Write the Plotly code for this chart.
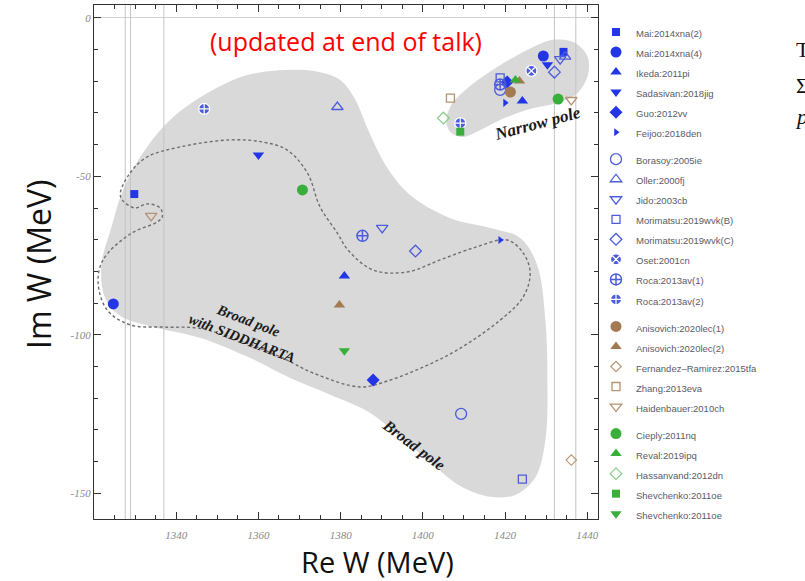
import plotly.graph_objects as go

# ---------------- axes ----------------
x_range = [1320.0, 1442.6]
y_range = [-158.2, 4.1]
x_tick_vals = [1340, 1360, 1380, 1400, 1420, 1440]
x_tick_text = ["1340", "1360", "1380", "1400", "1420", "1440"]
y_tick_vals = [0, -50, -100, -150]
y_tick_text = ["0", "-50", "-100", "-150"]
thresholds = [1327.6, 1328.9, 1337.0, 1432.0, 1437.2]

# ---------------- region outlines (Re W, Im W) ----------------
broad_re = [1367.0, 1375.0, 1379.9, 1383.6, 1386.7, 1390.9, 1396.9, 1406.7, 1416.4, 1423.7,
            1427.8, 1429.8, 1430.3, 1429.8, 1427.3, 1422.5, 1416.4, 1409.1, 1401.8, 1394.5,
            1387.2, 1377.5, 1367.7, 1358.0, 1345.8, 1333.7, 1326.4, 1322.7, 1321.8, 1324.4,
            1326.6, 1330.8, 1338.5, 1349.0, 1357.3, 1367.0]
broad_im = [-16.4, -17.1, -19.6, -25.9, -35.4, -46.4, -55.9, -63.2, -66.3, -69.5,
            -78.0, -95.4, -114.3, -133.3, -145.2, -150.6, -151.2, -147.8, -140.2, -132.3,
            -124.7, -119.0, -113.7, -107.4, -101.0, -97.3, -94.1, -88.4, -78.0, -65.4,
            -55.9, -44.8, -32.2, -22.7, -18.0, -16.4]

narrow_re = [1405.7, 1406.9, 1411.5, 1418.1, 1425.4, 1431.7, 1436.6, 1440.0, 1440.2, 1437.6,
             1432.7, 1425.4, 1418.8, 1413.5, 1409.6, 1406.7, 1405.7]
narrow_im = [-32.8, -27.5, -21.5, -15.5, -10.1, -6.9, -7.6, -12.0, -17.7, -23.7,
             -26.8, -29.0, -32.2, -35.7, -37.6, -36.0, -32.8]

sidd_re = [1326.4, 1328.8, 1332.9, 1341.0, 1353.1, 1361.2, 1367.0, 1371.9, 1375.0, 1379.2,
           1381.8, 1387.9, 1396.2, 1404.2, 1412.3, 1420.5, 1424.4, 1426.1, 1424.4, 1418.8,
           1408.4, 1400.1, 1392.1, 1384.8, 1373.3, 1365.3, 1353.1, 1345.1, 1336.8, 1328.8,
           1323.2, 1321.0, 1322.2, 1328.8, 1335.4, 1336.6, 1336.1, 1332.9, 1330.0, 1326.9,
           1326.4]
sidd_im = [-55.3, -48.9, -43.9, -40.7, -38.5, -39.2, -41.7, -48.9, -59.7, -67.9,
           -73.3, -79.6, -80.2, -76.4, -72.6, -70.1, -74.2, -80.5, -88.1, -95.4,
           -104.8, -110.2, -114.3, -116.5, -112.1, -107.0, -100.7, -97.9, -97.6, -96.9,
           -92.2, -83.7, -76.4, -68.2, -64.4, -62.8, -60.0, -58.7, -60.0, -57.5,
           -55.3]

# ---------------- pole positions ----------------
mai2_re, mai2_im = [1329.8, 1434.2], [-55.6, -10.7]
mai4_re, mai4_im = [1324.7, 1429.3], [-90.3, -12.0]
ikeda_re, ikeda_im = [1380.9, 1424.2], [-81.5, -26.2]
sadasivan_re, sadasivan_im = [1360.0, 1430.3], [-43.3, -14.8]
guo_re, guo_im = [1387.9, 1420.5], [-114.3, -20.2]
feijoo_re, feijoo_im = [1418.8, 1420.0], [-70.1, -26.8]
borasoy_re, borasoy_im = [1409.3, 1418.8], [-125.0, -22.7]
oller_re, oller_im = [1379.2, 1434.6], [-28.1, -12.2]
jido_re, jido_im = [1390.1, 1433.4], [-66.3, -13.0]
morib_re, morib_im = [1424.2, 1418.8], [-145.6, -18.9]
moric_re, moric_im = [1398.2, 1432.0], [-73.6, -17.1]
oset_re, oset_im = [1426.4], [-16.7]
roca1_re, roca1_im = [1385.3, 1418.8], [-68.8, -21.0]
roca2_re, roca2_im = [1346.8, 1409.1], [-28.7, -33.2]
anis1_re, anis1_im = [1421.3], [-23.4]
anis2_re, anis2_im = [1379.7, 1423.5], [-90.6, -19.9]
fern_re, fern_im = [1436.1], [-139.6]
zhang_re, zhang_im = [1406.7], [-25.3]
haid_re, haid_im = [1333.9, 1436.1], [-62.5, -25.9]
cieply_re, cieply_im = [1370.7, 1432.9], [-54.3, -25.6]
reval_re, reval_im = [1422.5], [-19.6]
hassan_re, hassan_im = [1405.0], [-31.6]
shev1_re, shev1_im = [1409.1], [-35.9]
shev2_re, shev2_im = [1380.9], [-105.1]

BLUE = "#2236e6"
BLUE_O = "#4c5cdc"
BROWN = "#a37a52"
BROWN_O = "#b49272"
GREEN = "#3aae3a"
GREEN_O = "#86cc86"

# name, group, re, im, symbol, color, size, line color, line width
series = [
    ("Mai:2014xna(2)", "g1", mai2_re, mai2_im, "square", BLUE, 8, BLUE, 0),
    ("Mai:2014xna(4)", "g1", mai4_re, mai4_im, "circle", BLUE, 11, BLUE, 0),
    ("Ikeda:2011pi", "g1", ikeda_re, ikeda_im, "triangle-up", BLUE, 10, BLUE, 0),
    ("Sadasivan:2018jig", "g1", sadasivan_re, sadasivan_im, "triangle-down", BLUE, 10, BLUE, 0),
    ("Guo:2012vv", "g1", guo_re, guo_im, "diamond", BLUE, 10, BLUE, 0),
    ("Feijoo:2018den", "g1", feijoo_re, feijoo_im, "triangle-right", BLUE, 7, BLUE, 0),
    ("Borasoy:2005ie", "g2", borasoy_re, borasoy_im, "circle-open", BLUE_O, 11, BLUE_O, 1.3),
    ("Oller:2000fj", "g2", oller_re, oller_im, "triangle-up-open", BLUE_O, 10, BLUE_O, 1.3),
    ("Jido:2003cb", "g2", jido_re, jido_im, "triangle-down-open", BLUE_O, 10, BLUE_O, 1.3),
    ("Morimatsu:2019wvk(B)", "g2", morib_re, morib_im, "square-open", BLUE_O, 8, BLUE_O, 1.3),
    ("Morimatsu:2019wvk(C)", "g2", moric_re, moric_im, "diamond-open", BLUE_O, 9, BLUE_O, 1.3),
    ("Oset:2001cn", "g2", oset_re, oset_im, "circle-x", BLUE_O, 11, "white", 1.2),
    ("Roca:2013av(1)", "g2", roca1_re, roca1_im, "circle-cross-open", BLUE_O, 11, BLUE_O, 1.5),
    ("Roca:2013av(2)", "g2", roca2_re, roca2_im, "circle-cross", BLUE_O, 11, "white", 1.2),
    ("Anisovich:2020lec(1)", "g3", anis1_re, anis1_im, "circle", BROWN, 11, BROWN, 0),
    ("Anisovich:2020lec(2)", "g3", anis2_re, anis2_im, "triangle-up", BROWN, 10, BROWN, 0),
    ("Fernandez\u2013Ramirez:2015tfa", "g3", fern_re, fern_im, "diamond-open", BROWN_O, 8, BROWN_O, 1.1),
    ("Zhang:2013eva", "g3", zhang_re, zhang_im, "square-open", BROWN_O, 8, BROWN_O, 1.3),
    ("Haidenbauer:2010ch", "g3", haid_re, haid_im, "triangle-down-open", BROWN_O, 10, BROWN_O, 1.3),
    ("Cieply:2011nq", "g4", cieply_re, cieply_im, "circle", GREEN, 11, GREEN, 0),
    ("Reval:2019ipq", "g4", reval_re, reval_im, "triangle-up", GREEN, 10, GREEN, 0),
    ("Hassanvand:2012dn", "g4", hassan_re, hassan_im, "diamond-open", GREEN_O, 9, GREEN_O, 1.2),
    ("Shevchenko:2011oe", "g4", shev1_re, shev1_im, "square", GREEN, 8, GREEN, 0),
    ("Shevchenko:2011oe ", "g4", shev2_re, shev2_im, "triangle-down", GREEN, 10, GREEN, 0),
]

fig = go.Figure()

# shaded regions
fig.add_trace(go.Scatter(x=broad_re, y=broad_im, mode="lines", fill="toself",
                         fillcolor="#d9d9d9", line=dict(width=0, shape="spline", smoothing=1),
                         showlegend=False, hoverinfo="skip"))
fig.add_trace(go.Scatter(x=narrow_re, y=narrow_im, mode="lines", fill="toself",
                         fillcolor="#d9d9d9", line=dict(width=0, shape="spline", smoothing=1),
                         showlegend=False, hoverinfo="skip"))

# threshold lines
tx, ty = [], []
for t in thresholds:
    tx += [t, t, None]
    ty += [y_range[0], y_range[1], None]
fig.add_trace(go.Scatter(x=tx, y=ty, mode="lines", line=dict(color="#c4c4c4", width=1),
                         showlegend=False, hoverinfo="skip"))

# SIDDHARTA dashed contour
fig.add_trace(go.Scatter(x=sidd_re, y=sidd_im, mode="lines",
                         line=dict(color="#6e6e6e", width=1.4, dash="3px,2.5px",
                                   shape="spline", smoothing=1),
                         showlegend=False, hoverinfo="skip"))

for name, grp, xs, ys, sym, col, size, lcol, lw in series:
    fig.add_trace(go.Scatter(
        x=xs, y=ys, mode="markers",
        name='<span style="font-size:9.5px">' + name.strip() + "</span>",
        legendgroup=grp,
        marker=dict(symbol=sym, color=col, size=size, line=dict(color=lcol, width=lw)),
    ))

W, H = 805, 581
L, R, T, B = 94, 598, 5, 519


def px_x(p):
    return (p - L) / (R - L)


def px_y(p):
    return (B - p) / (B - T)


def ann(text, px, py, size, family="Open Sans", color="#111", angle=0, style="normal",
        weight="normal", xanchor="center"):
    return dict(text=text, xref="paper", yref="paper", x=px_x(px), y=px_y(py),
                xanchor=xanchor, yanchor="middle", showarrow=False, textangle=angle,
                font=dict(family=family, size=size, color=color, style=style, weight=weight))


def dann(text, xv, yv, size, angle):
    return dict(text=text, xref="x", yref="y", x=xv, y=yv, xanchor="center",
                yanchor="middle", showarrow=False, textangle=angle,
                font=dict(family="Liberation Serif", size=size, color="#1a1a1a",
                          style="italic", weight="bold"))


annotations = [
    ann("(updated at end of talk)", 346, 41, 25, color="#ff0000"),
    ann("Im W (MeV)", 38, 265, 32, angle=-90),
    ann("Re W (MeV)", 377, 561, 29),
    dann("Narrow pole", 1427.8, -33.2, 17, -15),
    dann("Broad pole<br>with SIDDHARTA", 1356.8, -98.5, 14.5, 21),
    dann("Broad pole", 1397.7, -134.8, 16, 37),
    ann("T", 794, 49, 22, family="Liberation Serif", xanchor="left"),
    ann("\u03a3", 794, 85, 22, family="Liberation Serif", xanchor="left"),
    ann("p", 793, 116, 22, family="Liberation Serif", style="italic", xanchor="left"),
]

axis_common = dict(showline=True, linecolor="#333", linewidth=1.3, mirror="allticks",
                   ticks="inside", ticklen=7, tickwidth=1, tickcolor="#333",
                   showgrid=False,
                   tickfont=dict(family="Liberation Serif", size=11, color="#8a8a8a",
                                 style="italic"))

fig.update_layout(
    width=W, height=H,
    margin=dict(l=L, r=W - R, t=T, b=H - B),
    paper_bgcolor="white", plot_bgcolor="white",
    xaxis=dict(range=x_range, tickmode="array", tickvals=x_tick_vals, ticktext=x_tick_text,
               zeroline=False, ticklabelstandoff=6,
               minor=dict(tickmode="linear", tick0=1340, dtick=5, ticks="inside", ticklen=4,
                          tickcolor="#333"),
               **axis_common),
    yaxis=dict(range=y_range, tickmode="array", tickvals=y_tick_vals, ticktext=y_tick_text,
               zeroline=True, zerolinecolor="#cfcfcf", zerolinewidth=1,
               minor=dict(tickmode="linear", tick0=0, dtick=10, ticks="inside", ticklen=4,
                          tickcolor="#333"),
               **axis_common),
    legend=dict(x=px_x(596), xanchor="left", y=px_y(17), yanchor="top",
                font=dict(family="Liberation Sans", size=13.1, color="#5a5a6a"),
                tracegroupgap=7, bgcolor="rgba(0,0,0,0)", itemsizing="trace"),
    annotations=annotations,
    showlegend=True,
)

fig.write_html("out.html")
